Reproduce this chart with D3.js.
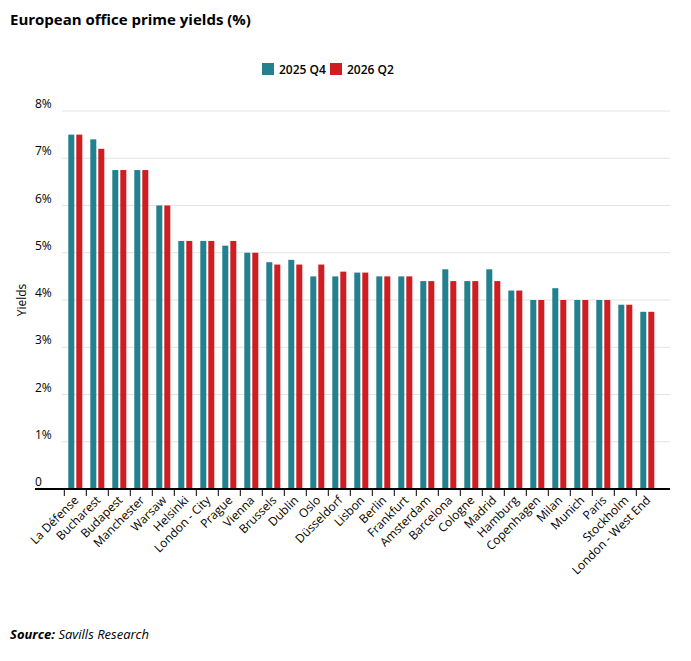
<!DOCTYPE html>
<meta charset="utf-8">
<style>
  body { margin: 0; background: #fff; }
  text { font-family: 'Open Sans', sans-serif; fill: #000; }
  .grid line { stroke: #e3e3e3; stroke-width: 1px; }
</style>
<script src="https://d3js.org/d3.v7.min.js"></script>
<svg width="691" height="661"></svg>
<script>
  var cities = ["La Défense", "Bucharest", "Budapest", "Manchester", "Warsaw", "Helsinki",
    "London - City", "Prague", "Vienna", "Brussels", "Dublin", "Oslo", "Düsseldorf", "Lisbon",
    "Berlin", "Frankfurt", "Amsterdam", "Barcelona", "Cologne", "Madrid", "Hamburg",
    "Copenhagen", "Milan", "Munich", "Paris", "Stockholm", "London - West End"];
  var q4_2025 = [7.5, 7.4, 6.75, 6.75, 6.0, 5.25, 5.25, 5.15, 5.0, 4.8, 4.85, 4.5, 4.5, 4.58,
    4.5, 4.5, 4.4, 4.65, 4.4, 4.65, 4.2, 4.0, 4.25, 4.0, 4.0, 3.9, 3.75];
  var q2_2026 = [7.5, 7.2, 6.75, 6.75, 6.0, 5.25, 5.25, 5.25, 5.0, 4.75, 4.75, 4.75, 4.6, 4.58,
    4.5, 4.5, 4.4, 4.4, 4.4, 4.4, 4.2, 4.0, 4.0, 4.0, 4.0, 3.9, 3.75];
  var series = ["2025 Q4", "2026 Q2"];
  var colors = ["#23808f", "#d01d22"];
  var yTicks = [0, 1, 2, 3, 4, 5, 6, 7, 8];

  var svg = d3.select("svg");

  var x = d3.scaleBand().domain(cities).range([64.3, 658.3]);
  var y = d3.scaleLinear().domain([0, 8]).range([489, 111]);

  svg.append("text").attr("x", 10).attr("y", 25)
    .style("font-size", "15px").style("font-weight", "bold")
    .text("European office prime yields (%)");

  // legend
  var lg = svg.append("g").attr("transform", "translate(262,63)");
  series.forEach(function(s, i) {
    var gi = lg.append("g").attr("transform", "translate(" + (i * 68) + ",0)");
    gi.append("rect").attr("width", 12).attr("height", 12).attr("fill", colors[i]);
    gi.append("text").attr("x", 17).attr("y", 11).style("font-size", "12px")
      .style("font-weight", "600").text(s);
  });

  // grid + y labels
  var grid = svg.append("g").attr("class", "grid");
  grid.selectAll("line").data(yTicks.filter(function(d) { return d > 0; })).enter().append("line")
    .attr("x1", 62).attr("x2", 670)
    .attr("y1", function(d) { return y(d); }).attr("y2", function(d) { return y(d); });
  svg.append("g").selectAll("text").data(yTicks).enter().append("text")
    .attr("x", 35).attr("y", function(d) { return y(d) - 3; })
    .style("font-size", "12px")
    .text(function(d) { return d === 0 ? "0" : d + "%"; });

  svg.append("text").attr("transform", "translate(26,300) rotate(-90)")
    .attr("text-anchor", "middle").style("font-size", "12px").text("Yields");

  // bars
  var barW = 6;
  [q4_2025, q2_2026].forEach(function(vals, si) {
    svg.append("g").selectAll("rect").data(cities).enter().append("rect")
      .attr("x", function(d) { return x(d) + x.bandwidth() / 2 - 7 + si * 8; })
      .attr("width", barW)
      .attr("y", function(d, i) { return y(vals[i]); })
      .attr("height", function(d, i) { return y(0) - y(vals[i]); })
      .attr("fill", colors[si]);
  });

  // x axis
  var xa = svg.append("g").attr("transform", "translate(0," + y(0) + ")");
  xa.append("line").attr("x1", 35).attr("x2", 670).attr("stroke", "#000").attr("stroke-width", 2);
  xa.selectAll(".tk").data(cities).enter().append("line")
    .attr("x1", function(d) { return x(d); }).attr("x2", function(d) { return x(d); })
    .attr("y1", 0).attr("y2", 7).attr("stroke", "#000");
  xa.selectAll(".lb").data(cities).enter().append("text")
    .attr("text-anchor", "end")
    .attr("transform", function(d) {
      return "translate(" + (x(d) + x.bandwidth() / 2 + 4) + ",12) rotate(-45)";
    })
    .style("font-size", "12px")
    .text(function(d) { return d; });

  svg.append("text").attr("x", 10).attr("y", 639).style("font-size", "13px")
    .html('<tspan font-weight="bold" font-style="italic">Source:</tspan><tspan font-style="italic"> Savills Research</tspan>');
</script>
